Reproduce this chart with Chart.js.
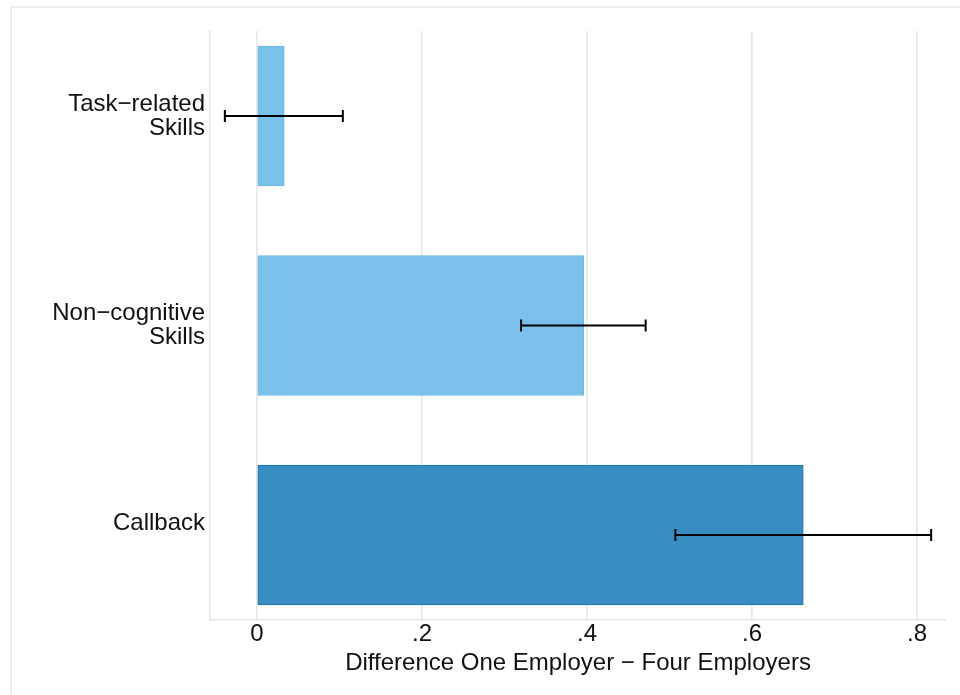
<!DOCTYPE html>
<html>
<head>
<meta charset="utf-8">
<script src="https://cdn.jsdelivr.net/npm/chart.js@4/dist/chart.umd.min.js"></script>
<style>
    html, body { margin: 0; padding: 0; background: #fff; }
    #wrap { position: relative; width: 960px; height: 695px; }
    #frame {
        position: absolute; left: 10px; top: 6px; right: 0; bottom: 0;
        border-left: 2px solid #efefef; border-top: 2px solid #efefef;
        pointer-events: none;
    }
    canvas { position: absolute; left: 0; top: 0; }
</style>
</head>
<body>
<div id="wrap">
    <canvas id="chart" width="960" height="695"></canvas>
    <div id="frame"></div>
</div>
<script>
// outcomes, top to bottom
const categories = [["Task\u2212related", "Skills"], ["Non\u2212cognitive", "Skills"], ["Callback", ""]];
const differences = [0.033, 0.396, 0.662];
const ciLow = [-0.039, 0.320, 0.507];
const ciHigh = [0.104, 0.471, 0.817];
const xTicks = [0, 0.2, 0.4, 0.6, 0.8];

const barColors = ["#79c1eb", "#79c1eb", "#358dc2"];
const barBorders = ["#6ab6e4", "#6ab6e4", "#1f72ab"];

// Confidence intervals drawn as capped horizontal lines
const errorBars = {
    id: "errorBars",
    afterDatasetsDraw(chart) {
        const { ctx, scales: { x, y } } = chart;
        ctx.save();
        ctx.strokeStyle = "#000";
        ctx.lineWidth = 2;
        differences.forEach((d, i) => {
            const py = y.getPixelForValue(i + 1);
            const x0 = x.getPixelForValue(ciLow[i]);
            const x1 = x.getPixelForValue(ciHigh[i]);
            ctx.beginPath();
            ctx.moveTo(x0, py); ctx.lineTo(x1, py);
            ctx.moveTo(x0, py - 6); ctx.lineTo(x0, py + 6);
            ctx.moveTo(x1, py - 6); ctx.lineTo(x1, py + 6);
            ctx.stroke();
        });
        ctx.restore();
    }
};

const font = { family: "'Liberation Sans', Arial, Helvetica, sans-serif", size: 24, lineHeight: 1.0 };

new Chart(document.getElementById("chart"), {
    type: "bar",
    data: {
        datasets: [{
            data: differences.map((v, i) => ({ x: v, y: i + 1 })),
            backgroundColor: barColors,
            borderColor: barBorders,
            borderWidth: 1,
            borderSkipped: false,
            barThickness: 140
        }]
    },
    options: {
        indexAxis: "y",
        responsive: false,
        animation: false,
        layout: { padding: { top: 31, right: 14, left: 0, bottom: 0 } },
        plugins: { legend: { display: false }, tooltip: { enabled: false } },
        scales: {
            x: {
                type: "linear",
                min: -0.057,
                max: 0.835,
                afterBuildTicks: axis => { axis.ticks = xTicks.map(v => ({ value: v })); },
                afterFit: axis => { axis.height = 75; },
                ticks: {
                    color: "#111",
                    font: font,
                    padding: 2,
                    callback: v => v === 0 ? "0" : String(Math.round(v * 10) / 10).replace(/^0/, "")
                },
                grid: { color: "#e6e6e6", lineWidth: 1.5, drawTicks: false },
                border: { color: "#e6e6e6", width: 1.5 },
                title: {
                    display: true,
                    text: "Difference One Employer \u2212 Four Employers",
                    color: "#111",
                    font: font,
                    padding: 20
                }
            },
            y: {
                type: "linear",
                reverse: true,
                offset: false,
                min: 0.594,
                max: 3.406,
                afterBuildTicks: axis => { axis.ticks = categories.map((c, i) => ({ value: i + 1 })); },
                afterFit: axis => { axis.width = 210; },
                ticks: {
                    color: "#111",
                    font: font,
                    padding: 5,
                    callback: v => categories[v - 1]
                },
                grid: { display: false, drawTicks: false },
                border: { color: "#e6e6e6", width: 1.5 }
            }
        }
    },
    plugins: [errorBars]
});
</script>
</body>
</html>
